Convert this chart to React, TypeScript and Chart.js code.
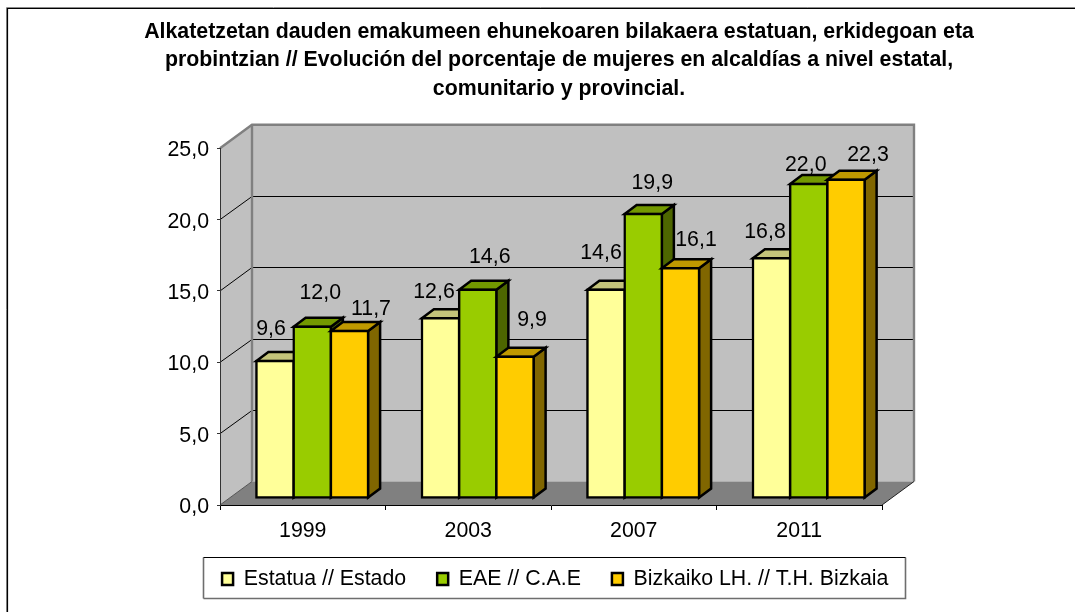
import React, { useEffect, useRef } from "react";
import { Chart, registerables } from "chart.js";

Chart.register(...registerables);

const categories = ["1999", "2003", "2007", "2011"];
const estatua = [9.6, 12.6, 14.6, 16.8];
const eae = [12.0, 14.6, 19.9, 22.0];
const bizkaia = [11.7, 9.9, 16.1, 22.3];
const seriesNames = ["Estatua // Estado", "EAE // C.A.E", "Bizkaiko LH. // T.H. Bizkaia"];
const titleLines = [
  "Alkatetzetan dauden emakumeen ehunekoaren bilakaera estatuan, erkidegoan eta",
  "probintzian // Evolución del porcentaje de mujeres en alcaldías a nivel estatal,",
  "comunitario y provincial.",
];

const FONT = '"Liberation Sans", Arial, sans-serif';
const FS = 21.33;
const BAR_LINE = 2.5;
const frontColors = ["#FFFF99", "#99CC00", "#FFCC00"];
const topColors = ["#C4C47A", "#739900", "#BF9900"];
const sideColors = ["#80804D", "#4D6600", "#806600"];

// wall depth, bar placement within that depth, bar depth
const WALL = { dx: 32, dy: -23.5 };
const BAR_SHIFT = { dx: 9.5, dy: -7 };
const BAR_DEPTH = { dx: 12, dy: -9 };

// label offset from the top centre of each bar: [series][category] => [dx, dy]
const labelOffsets = [
  [[-4, -32], [-6.5, -26], [-5, -37], [-6.5, -26]],
  [[8, -34], [12, -33], [9, -31], [-3, -19]],
  [[21.5, -22], [17, -37], [15.5, -28], [22, -25]],
];

const fmt = (v: number) => v.toFixed(1).replace(".", ",");

function poly(ctx: CanvasRenderingContext2D, pts: number[][], fill?: string, stroke?: string, lw = 1) {
  ctx.beginPath();
  pts.forEach((p, i) => (i ? ctx.lineTo(p[0], p[1]) : ctx.moveTo(p[0], p[1])));
  if (fill) {
    ctx.closePath();
    ctx.fillStyle = fill;
    ctx.fill();
  }
  if (stroke) {
    ctx.strokeStyle = stroke;
    ctx.lineWidth = lw;
    ctx.stroke();
  }
}

const scene3d = {
  id: "scene3d",
  afterLayout(chart: any) {
    const t = chart.titleBlock;
    t.left = 0;
    t.right = 1118;
    t.top = 17.75;
    const l = chart.legend;
    l.left += 104.25;
    l.right += 104.25;
    l.top = 537.33;
  },
  beforeDraw(chart: any) {
    const ctx: CanvasRenderingContext2D = chart.ctx;
    const { left: L, right: R, top: T, bottom: B } = chart.chartArea;
    const y = chart.scales.y;
    const { dx, dy } = WALL;
    ctx.save();
    // outer chart frame
    ctx.fillStyle = "#fff";
    ctx.fillRect(0, 0, 1075, 612);
    poly(ctx, [[6.5, 612], [6.5, 7.5], [1075, 7.5]], undefined, "#8a8a8a", 1);
    poly(ctx, [[7.5, 612], [7.5, 8.5], [1075, 8.5]], undefined, "#000", 1.2);
    // walls and floor
    poly(ctx, [[L, B], [L, T], [L + dx, T + dy], [L + dx, B + dy]], "#C0C0C0");
    poly(ctx, [[L + dx, T + dy], [R + dx, T + dy], [R + dx, B + dy], [L + dx, B + dy]], "#C0C0C0");
    poly(ctx, [[L, B], [R, B], [R + dx, B + dy], [L + dx, B + dy]], "#808080");
    // gridlines
    for (const tick of y.ticks) {
      if (tick.value === 0 || tick.value === y.max) continue;
      const py = Math.round(y.getPixelForValue(tick.value) + dy) + 0.5;
      poly(ctx, [[L, y.getPixelForValue(tick.value)], [L + dx, py], [R + dx, py]], undefined, "#000", 1);
    }
    // wall edges
    poly(ctx, [[L, T], [L + dx, T + dy], [R + dx, T + dy], [R + dx, B + dy]], undefined, "#808080", 2.4);
    poly(ctx, [[L + dx, T + dy], [L + dx, B + dy]], undefined, "#808080", 2.4);
    poly(ctx, [[L, B], [L + dx, B + dy]], undefined, "#555", 1);
    poly(ctx, [[R, B], [R + dx, B + dy]], undefined, "#222", 1);
    // legend frame
    const f = { x: 203.5, y: 557.5, r: 905.5, b: 598.5 };
    ctx.fillStyle = "#fff";
    ctx.fillRect(f.x, f.y, f.r - f.x, f.b - f.y);
    poly(ctx, [[f.x, f.b], [f.r, f.b], [f.r, f.y]], undefined, "#6e6e6e", 1.6);
    poly(ctx, [[f.x, f.y], [f.x, f.b]], undefined, "#6e6e6e", 1.6);
    poly(ctx, [[f.x, f.y], [f.r, f.y]], undefined, "#000", 1.1);
    ctx.restore();
  },
  // Series paint back to front in their own order, each bar as side, top, then the library's front face.
  beforeDatasetDraw() {
    return false;
  },
  beforeDatasetsDraw(chart: any) {
    const ctx: CanvasRenderingContext2D = chart.ctx;
    const { dx, dy } = BAR_DEPTH;
    ctx.save();
    ctx.translate(BAR_SHIFT.dx, BAR_SHIFT.dy);
    ctx.lineJoin = "miter";
    chart.data.datasets.forEach((_: any, i: number) => {
      for (const el of chart.getDatasetMeta(i).data) {
        const l = el.x - el.width / 2;
        const r = el.x + el.width / 2;
        poly(ctx, [[r, el.y], [r + dx, el.y + dy], [r + dx, el.base + dy], [r, el.base]], sideColors[i], "#000", BAR_LINE);
        poly(ctx, [[l, el.y], [l + dx, el.y + dy], [r + dx, el.y + dy], [r, el.y]], topColors[i], "#000", BAR_LINE);
        el.draw(ctx);
      }
    });
    ctx.restore();
  },
  afterDatasetsDraw(chart: any) {
    const ctx: CanvasRenderingContext2D = chart.ctx;
    ctx.save();
    ctx.font = `${FS}px ${FONT}`;
    ctx.fillStyle = "#000";
    ctx.textAlign = "center";
    ctx.textBaseline = "middle";
    chart.data.datasets.forEach((ds: any, i: number) => {
      chart.getDatasetMeta(i).data.forEach((el: any, j: number) => {
        const [ox, oy] = labelOffsets[i][j];
        ctx.fillText(fmt(ds.data[j]), el.x + BAR_SHIFT.dx + ox, el.y + BAR_SHIFT.dy + oy);
      });
    });
    ctx.restore();
  },
};

export default function App() {
  const ref = useRef<HTMLCanvasElement>(null);
  useEffect(() => {
    const common = {
      borderColor: "#000",
      borderWidth: BAR_LINE,
      borderSkipped: false,
      inflateAmount: BAR_LINE / 2,
      categoryPercentage: 0.675,
      barPercentage: 1,
      clip: false,
    };
    const chart = new Chart(ref.current as HTMLCanvasElement, {
      type: "bar",
      data: {
        labels: categories,
        datasets: [
          { ...common, label: seriesNames[0], data: estatua, backgroundColor: frontColors[0] },
          { ...common, label: seriesNames[1], data: eae, backgroundColor: frontColors[1] },
          { ...common, label: seriesNames[2], data: bizkaia, backgroundColor: frontColors[2] },
        ],
      } as any,
      options: {
        responsive: false,
        animation: false,
        devicePixelRatio: 1,
        layout: { padding: { left: 20, right: 193, top: 62.8, bottom: 0.67 } },
        plugins: {
          title: {
            display: true,
            text: titleLines,
            color: "#000",
            padding: 0,
            font: { family: FONT, size: FS, weight: "bold", lineHeight: 28.5 / FS },
          },
          legend: {
            display: true,
            position: "bottom",
            labels: {
              color: "#000",
              boxWidth: 11,
              boxHeight: 12,
              padding: 31,
              font: { family: FONT, size: FS },
            },
          },
          tooltip: { enabled: false },
        },
        scales: {
          x: {
            afterFit: (s: any) => { s.height = 44; },
            border: { color: "#000", width: 1 },
            grid: { display: true, drawOnChartArea: false, drawTicks: true, tickLength: 5, color: "#000", offset: true },
            ticks: { color: "#000", padding: 8, maxRotation: 0, font: { family: FONT, size: FS } },
          },
          y: {
            min: 0,
            max: 25,
            afterFit: (s: any) => { s.width = 200; },
            border: { color: "#333", width: 1 },
            grid: { display: true, drawOnChartArea: false, drawTicks: true, tickLength: 3, color: "#333" },
            ticks: { stepSize: 5, color: "#000", padding: 8, labelOffset: 2, font: { family: FONT, size: FS }, callback: (v: any) => fmt(Number(v)) },
          },
        },
      } as any,
      plugins: [scene3d],
    });
    return () => chart.destroy();
  }, []);
  return (
    <canvas
      ref={ref}
      width={1075}
      height={612}
      style={{ position: "absolute", left: 0, top: 0, display: "block" }}
    />
  );
}
